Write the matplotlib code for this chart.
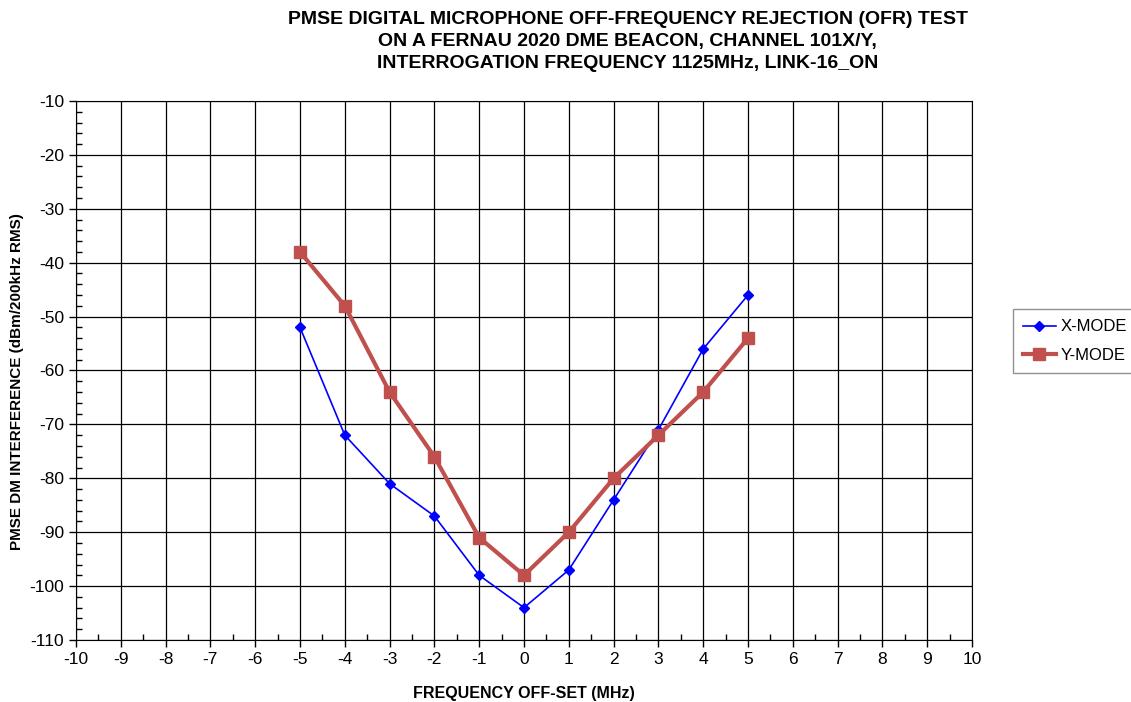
import matplotlib
matplotlib.use("Agg")
import matplotlib.pyplot as plt
from matplotlib.ticker import MultipleLocator

plt.rcParams['font.family'] = ['Liberation Sans', 'DejaVu Sans']
plt.rcParams['axes.unicode_minus'] = False

# data
offset_mhz = [-5, -4, -3, -2, -1, 0, 1, 2, 3, 4, 5]
x_mode = [-52, -72, -81, -87, -98, -104, -97, -84, -71, -56, -46]
y_mode = [-38, -48, -64, -76, -91, -98, -90, -80, -72, -64, -54]

fig = plt.figure(figsize=(11.31, 7.02), dpi=100)
ax = fig.add_axes([76 / 1131, 1 - 640 / 702, (972 - 76) / 1131, (640 - 101) / 702])

ax.plot(offset_mhz, x_mode, color='#0000FF', lw=1.2, marker='D', ms=5,
        label='X-MODE', zorder=3)
ax.plot(offset_mhz, y_mode, color='#C0504D', lw=3, marker='s', ms=9,
        label='Y-MODE', zorder=4)

ax.set_xlim(-10, 10)
ax.set_ylim(-110, -10)
ax.xaxis.set_major_locator(MultipleLocator(1))
ax.xaxis.set_minor_locator(MultipleLocator(0.5))
ax.yaxis.set_major_locator(MultipleLocator(10))
ax.yaxis.set_minor_locator(MultipleLocator(2))
ax.tick_params(which='major', direction='out', length=5, width=1, labelsize=12.5)
ax.tick_params(which='minor', direction='in', length=4, width=1)
ax.grid(True, which='major', color='black', lw=0.9)
ax.set_axisbelow(True)
for s in ax.spines.values():
    s.set_color('black')

ax.set_xlabel('FREQUENCY OFF-SET (MHz)', fontsize=11.5, fontweight='bold', labelpad=14)
ax.set_ylabel('PMSE DM INTERFERENCE (dBm/200kHz RMS)', fontsize=11, fontweight='bold')
ax.yaxis.set_label_coords(-0.058, 0.48)

fig.text(0.555, 0.985,
         'PMSE DIGITAL MICROPHONE OFF-FREQUENCY REJECTION (OFR) TEST\n'
         'ON A FERNAU 2020 DME BEACON, CHANNEL 101X/Y,\n'
         'INTERROGATION FREQUENCY 1125MHz, LINK-16_ON',
         ha='center', va='top', fontsize=14, fontweight='bold', linespacing=1.4)

leg = fig.legend(loc='center', bbox_to_anchor=(1075 / 1131, 1 - 341 / 702),
                 fontsize=12, frameon=True, fancybox=False, edgecolor='#777777',
                 handlelength=2.0, handletextpad=0.3, borderpad=0.6,
                 labelspacing=0.8, borderaxespad=0)
leg.get_frame().set_linewidth(1)

fig.savefig('out.png', dpi=100)
